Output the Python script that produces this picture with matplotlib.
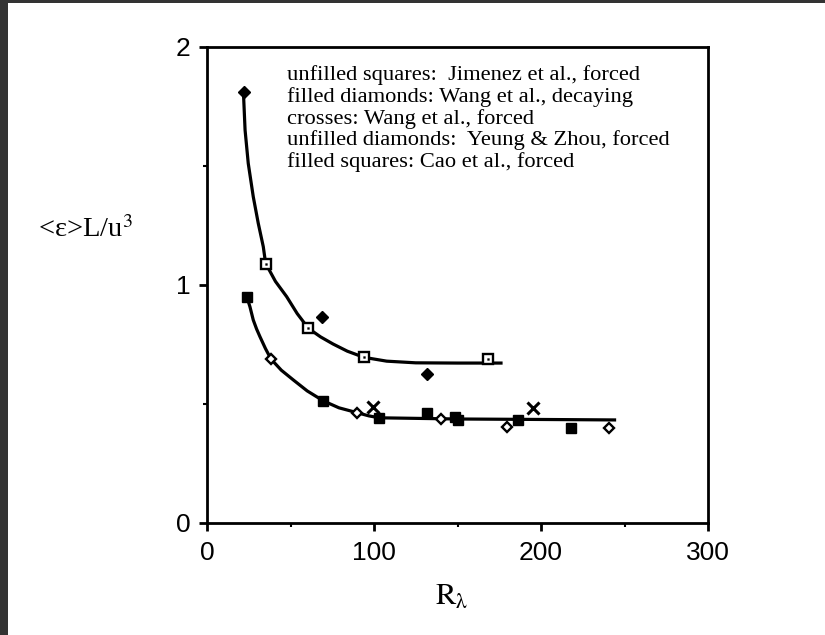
import matplotlib
matplotlib.use("Agg")
import matplotlib.pyplot as plt
from matplotlib.patches import Rectangle
from matplotlib.ticker import MultipleLocator

plt.rcParams['mathtext.fontset'] = 'stix'

# Jimenez et al., forced (unfilled squares)
jim_x = [35.1, 60.7, 94.0, 168.0]
jim_y = [1.09, 0.818, 0.696, 0.688]

# Wang et al., decaying (filled diamonds)
wdec_x = [22.0, 68.7, 131.7]
wdec_y = [1.812, 0.864, 0.626]

# Wang et al., forced (crosses)
wfor_x = [99.6, 195.2]
wfor_y = [0.489, 0.485]

# Yeung & Zhou, forced (unfilled diamonds)
yz_x = [38.3, 89.6, 140.0, 179.6, 240.5]
yz_y = [0.689, 0.464, 0.437, 0.404, 0.399]

# Cao et al., forced (filled squares)
cao_x = [23.8, 69.7, 103.2, 131.7, 148.5, 150.5, 186.2, 218.0]
cao_y = [0.951, 0.513, 0.442, 0.462, 0.445, 0.433, 0.433, 0.400]

# Trend curves through the two groups
upper_x = [21.8, 22.8, 24.7, 27.7, 30.7, 33.7, 35.1, 41.0, 47.7, 54.0,
           60.7, 68.0, 75.5, 84.0, 94.0, 107.6, 125.0, 150.0, 177.0]
upper_y = [1.812, 1.651, 1.511, 1.371, 1.259, 1.161, 1.091, 1.015, 0.951, 0.880,
           0.818, 0.782, 0.752, 0.722, 0.696, 0.680, 0.673, 0.672, 0.672]
lower_x = [23.8, 25.7, 27.7, 29.7, 31.7, 35.0, 38.3, 44.5, 51.7, 60.0,
           69.7, 79.0, 89.6, 97.0, 103.2, 150.0, 200.0, 245.0]
lower_y = [0.951, 0.909, 0.853, 0.815, 0.783, 0.733, 0.689, 0.642, 0.601, 0.555,
           0.513, 0.484, 0.464, 0.450, 0.442, 0.437, 0.435, 0.433]

legend_lines = [
    "unfilled squares:  Jimenez et al., forced",
    "filled diamonds: Wang et al., decaying",
    "crosses: Wang et al., forced",
    "unfilled diamonds:  Yeung & Zhou, forced",
    "filled squares: Cao et al., forced",
]

fig = plt.figure(figsize=(8.25, 6.35), dpi=100)
fig.patch.set_facecolor('white')
# dark frame strips along the left and top edges
fig.patches.append(Rectangle((0, 0), 8 / 825, 1, transform=fig.transFigure,
                             facecolor='#333333', edgecolor='none', zorder=0))
fig.patches.append(Rectangle((0, 1 - 3 / 635), 1, 3 / 635, transform=fig.transFigure,
                             facecolor='#333333', edgecolor='none', zorder=0))

ax = fig.add_axes([207 / 825, 112 / 635, 501 / 825, 476 / 635])
ax.set_xlim(0, 300)
ax.set_ylim(0, 2)

for s in ax.spines.values():
    s.set_linewidth(2)
    s.set_color('black')

ax.xaxis.set_minor_locator(MultipleLocator(50))
ax.yaxis.set_minor_locator(MultipleLocator(0.5))
ax.set_xticks([0, 100, 200, 300])
ax.set_xticklabels(['0', '100', '200', '300'])
ax.set_yticks([0, 1, 2])
ax.set_yticklabels(['0', '1', '2'])
ax.tick_params(which='major', direction='out', length=6, width=2, pad=7,
               labelsize=19, labelfontfamily='Liberation Sans')
ax.tick_params(axis='y', which='major', pad=6)
ax.tick_params(which='minor', direction='out', length=3, width=1.5)

ax.plot(upper_x, upper_y, color='black', lw=2.3, solid_capstyle='butt', zorder=2)
ax.plot(lower_x, lower_y, color='black', lw=2.3, solid_capstyle='butt', zorder=2)

ax.plot(jim_x, jim_y, ls='none', marker='s', ms=6.5, mfc='white', mec='black',
        mew=1.7, zorder=3)
ax.plot(jim_x, jim_y, ls='none', marker='s', ms=1.3, mfc='black', mec='black',
        mew=0.3, zorder=4)
ax.plot(wdec_x, wdec_y, ls='none', marker='D', ms=6.3, mfc='black', mec='black', zorder=3)
ax.plot(wfor_x, wfor_y, ls='none', marker='x', ms=8, mec='black', mew=2.2, zorder=3)
ax.plot(yz_x, yz_y, ls='none', marker='D', ms=5.5, mfc='white', mec='black',
        mew=1.7, zorder=3)
ax.plot(cao_x, cao_y, ls='none', marker='s', ms=7.8, mfc='black', mec='black', zorder=3)

y0 = 1.882
dy = 0.0915
for i, line in enumerate(legend_lines):
    ax.text(47.9, y0 - i * dy, line, family='Liberation Serif', fontsize=16.2,
            va='center', ha='left', color='black')

fig.text(85 / 825, 1 - 230 / 635, r"<ε>L/u$^{3}$", family='Liberation Serif',
         fontsize=20.5, ha='center', va='center')
fig.text(452 / 825, 1 - 596 / 635, r'$\mathrm{R}_{\mathrm{λ}}$', fontsize=22,
         ha='center', va='center')

fig.savefig('out.png', dpi=100, facecolor='white')
